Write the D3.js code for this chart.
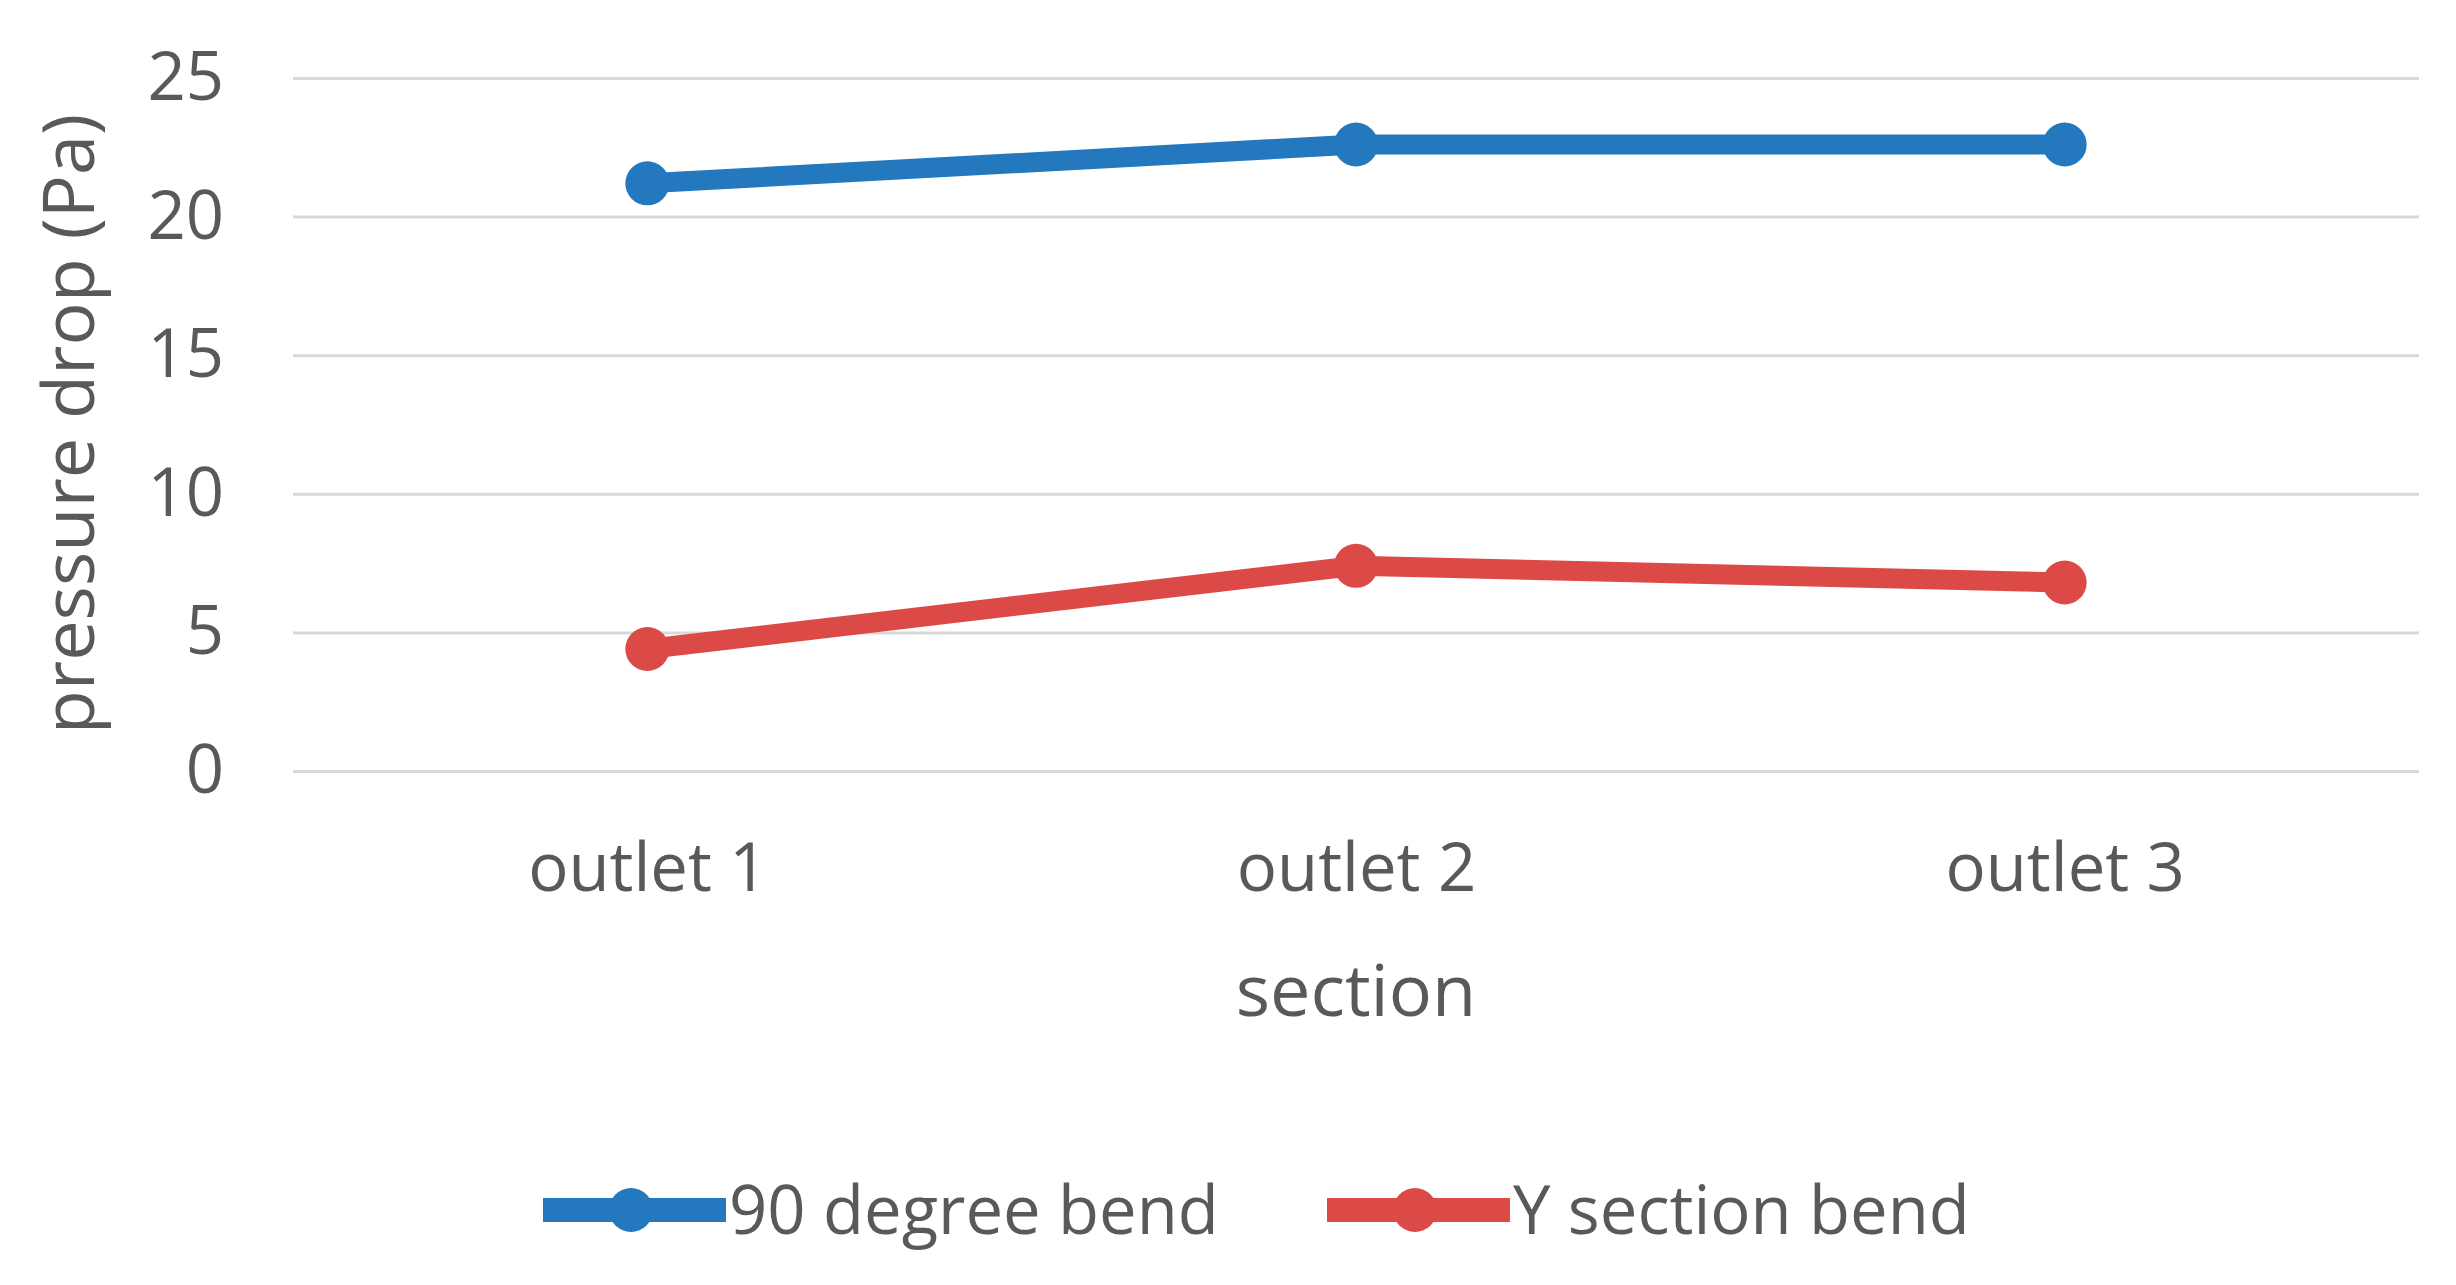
<!DOCTYPE html>
<html>
<head>
<meta charset="utf-8">
<script src="https://cdn.jsdelivr.net/npm/d3@7"></script>
<style>
  body { margin: 0; background: #fff; }
  text { font-family: "Open Sans", sans-serif; fill: #595959; }
</style>
</head>
<body>
<div id="chart"></div>
<script>
// data
var sections = ["outlet 1", "outlet 2", "outlet 3"];
var bend90 = [21.2, 22.6, 22.6];
var bendY = [4.4, 7.4, 6.8];
var seriesNames = ["90 degree bend", "Y section bend"];
var yTicks = [0, 5, 10, 15, 20, 25];

var W = 2456, H = 1285;
var plotL = 293, plotR = 2419, plotT = 78, plotB = 771;
var colors = ["#2478bd", "#db4a47"];

var svg = d3.select("#chart").append("svg")
  .attr("width", W)
  .attr("height", H);

var x = d3.scalePoint().domain(sections).range([plotL, plotR]).padding(0.5);
var y = d3.scaleLinear().domain([0, 25]).range([plotB, plotT]);

// gridlines + y ticks
var gy = svg.append("g")
  .attr("transform", "translate(" + plotL + ",0)")
  .call(d3.axisLeft(y).tickValues(yTicks).tickSize(-(plotR - plotL)).tickPadding(69));
gy.select(".domain").remove();
gy.selectAll(".tick line").attr("stroke", "#d9d9d9").attr("stroke-width", 3);
gy.selectAll(".tick text")
  .attr("font-size", 67)
  .attr("font-family", "Open Sans")
  .attr("fill", "#595959");

// x ticks
var gx = svg.append("g")
  .attr("transform", "translate(0," + plotB + ")")
  .call(d3.axisBottom(x).tickSize(0).tickPadding(72));
gx.select(".domain").remove();
gx.selectAll(".tick text")
  .attr("font-size", 67)
  .attr("font-family", "Open Sans")
  .attr("fill", "#595959");

// axis titles
svg.append("text")
  .attr("x", x("outlet 2"))
  .attr("y", 1016)
  .attr("text-anchor", "middle")
  .attr("font-size", 72)
  .text("section");

svg.append("text")
  .attr("transform", "translate(94,424) rotate(-90)")
  .attr("text-anchor", "middle")
  .attr("font-size", 72)
  .text("pressure drop (Pa)");

// series
var series = [bend90, bendY];
var line = d3.line()
  .x(function(d, i) { return x(sections[i]); })
  .y(function(d) { return y(d); });

series.forEach(function(vals, s) {
  svg.append("path")
    .datum(vals)
    .attr("d", line)
    .attr("fill", "none")
    .attr("stroke", colors[s])
    .attr("stroke-width", 20)
    .attr("stroke-linejoin", "round");

  svg.selectAll("circle.s" + s)
    .data(vals)
    .enter()
    .append("circle")
    .attr("class", "s" + s)
    .attr("cx", function(d, i) { return x(sections[i]); })
    .attr("cy", function(d) { return y(d); })
    .attr("r", 22)
    .attr("fill", colors[s]);
});

// legend
var legX = [543, 1327];
var legY = 1210;
seriesNames.forEach(function(name, s) {
  var g = svg.append("g").attr("transform", "translate(" + legX[s] + "," + legY + ")");
  g.append("line")
    .attr("x1", 0).attr("x2", 183)
    .attr("y1", 0).attr("y2", 0)
    .attr("stroke", colors[s])
    .attr("stroke-width", 24);
  g.append("circle")
    .attr("cx", 88).attr("cy", 0)
    .attr("r", 22)
    .attr("fill", colors[s]);
  g.append("text")
    .attr("x", 186)
    .attr("y", 0)
    .attr("dy", "0.36em")
    .attr("font-size", 67)
    .text(name);
});
</script>
</body>
</html>
